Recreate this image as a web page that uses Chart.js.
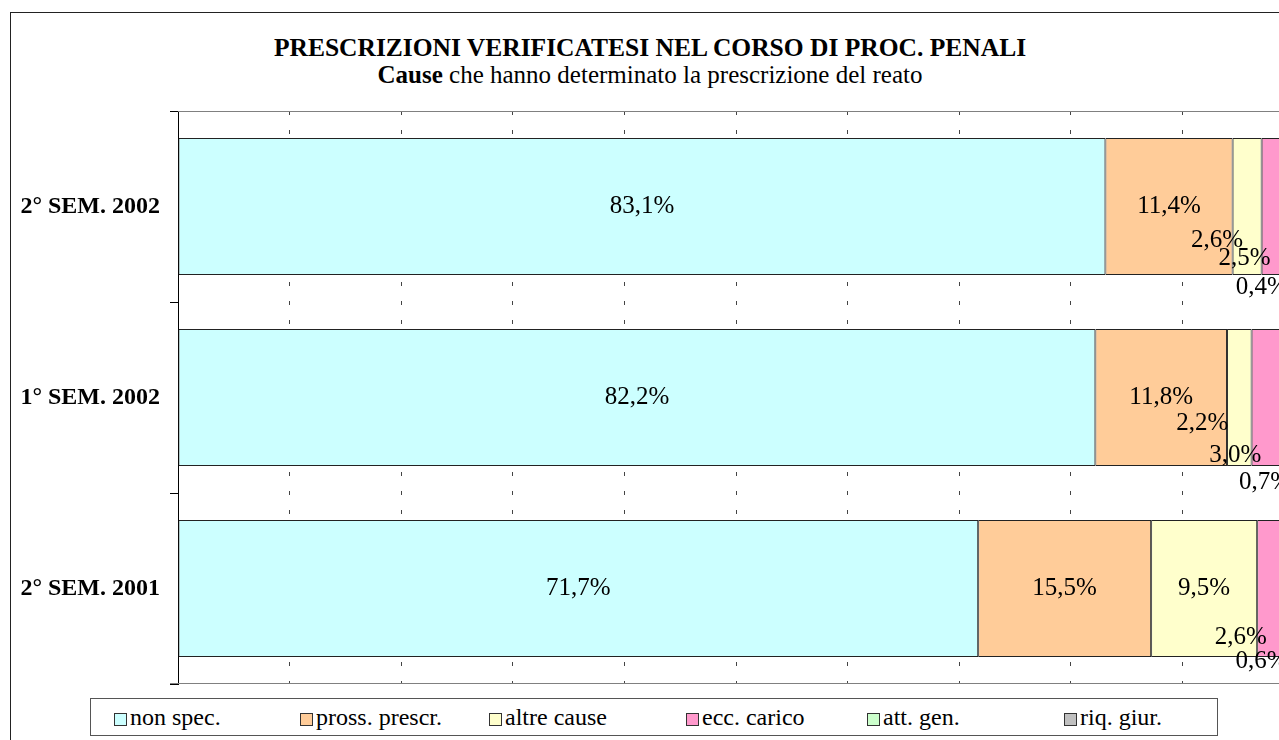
<!DOCTYPE html>
<html lang="it">
<head>
<meta charset="UTF-8">
<title>Prescrizioni verificatesi nel corso di proc. penali</title>
<script src="https://cdn.jsdelivr.net/npm/chart.js"></script>
<style>
  body { margin: 0; background: #fff; overflow: hidden; font-family: "Liberation Serif", "Times New Roman", serif; }
  #wrap { position: relative; width: 1279px; height: 740px; overflow: hidden; }
  #frame { position: absolute; left: 10px; top: 12px; width: 1400px; height: 900px; border: 1px solid #222; }
  #chart { position: absolute; left: 0; top: 0; }
  .title { position: absolute; left: 0; width: 1300px; text-align: center; color: #000; white-space: nowrap; }
  #t1 { top: 33px; font-size: 25.5px; line-height: 30px; font-weight: bold; }
  #t2 { top: 61px; font-size: 25px; line-height: 28px; }
  #legend { position: absolute; left: 90px; top: 698px; width: 1126px; height: 36px; border: 1px solid #555; background: #fff; }
  .item { position: absolute; top: 0; height: 36px; line-height: 36px; font-size: 24px; white-space: nowrap; }
  .sw { display: inline-block; width: 13px; height: 13px; border: 1px solid #333; margin-right: 3px; vertical-align: -1px; box-sizing: border-box; }
</style>
</head>
<body>
<div id="wrap">
  <div id="frame"></div>
  <div class="title" id="t1">PRESCRIZIONI VERIFICATESI NEL CORSO DI PROC. PENALI</div>
  <div class="title" id="t2"><b>Cause</b> che hanno determinato la prescrizione del reato</div>
  <canvas id="chart" width="1320" height="740"></canvas>
  <div id="legend"></div>
</div>

<script>
  const categories = ["2° SEM. 2002", "1° SEM. 2002", "2° SEM. 2001"];
  const seriesNames = ["non spec.", "pross. prescr.", "altre cause", "ecc. carico", "att. gen.", "riq. giur."];
  const nonSpec     = [83.1, 82.2, 71.7];
  const prossPrescr = [11.4, 11.8, 15.5];
  const altreCause  = [2.6, 2.2, 9.5];
  const eccCarico   = [2.5, 3.0, 2.6];
  const attGen      = [0.4, 0.7, 0.6];
  const riqGiur     = [0, 0, 0];
  const xTicks      = [0, 10, 20, 30, 40, 50, 60, 70, 80, 90, 100];

  const seriesValues = [nonSpec, prossPrescr, altreCause, eccCarico, attGen, riqGiur];
  const colors = ["#CCFFFF", "#FFCC99", "#FFFFCC", "#FF99CC", "#CCFFCC", "#C0C0C0"];
  const legendLeft = [23, 209, 398, 595, 776, 973];

  // Excel pushed the labels of the thin segments aside; nudges in px from segment centre
  const labelNudge = {
    "2-0": [-30, 34], "3-0": [-31, 52], "4-0": [-30, 81],
    "2-1": [-37, 26], "3-1": [-33, 58], "4-1": [-24, 85],
    "3-2": [-31, 49], "4-2": [-28, 73]
  };

  const serif = "'Liberation Serif', 'Times New Roman', serif";

  const frameLines = {
    id: "frameLines",
    beforeDatasetsDraw(chart) {
      const { ctx, chartArea } = chart;
      ctx.save();
      ctx.strokeStyle = "#808080";
      ctx.lineWidth = 1;
      ctx.beginPath();
      ctx.moveTo(chartArea.left, chartArea.top + 0.5);
      ctx.lineTo(chartArea.right, chartArea.top + 0.5);
      ctx.moveTo(chartArea.left - 8, chartArea.bottom - 0.5);
      ctx.lineTo(chartArea.right, chartArea.bottom - 0.5);
      ctx.stroke();
      ctx.restore();
    }
  };

  const valueLabels = {
    id: "valueLabels",
    afterDatasetsDraw(chart) {
      const { ctx } = chart;
      ctx.save();
      ctx.font = "25px " + serif;
      ctx.fillStyle = "#000";
      ctx.textAlign = "center";
      ctx.textBaseline = "middle";
      chart.data.datasets.forEach((ds, di) => {
        const meta = chart.getDatasetMeta(di);
        meta.data.forEach((bar, i) => {
          const v = ds.data[i];
          if (!v) return;
          const nudge = labelNudge[di + "-" + i] || [0, 0];
          const cx = (bar.x + bar.base) / 2;
          ctx.fillText(v.toFixed(1).replace(".", ",") + "%", cx + nudge[0], bar.y + nudge[1]);
        });
      });
      ctx.restore();
    }
  };

  const ctx = document.getElementById("chart").getContext("2d");
  new Chart(ctx, {
    type: "bar",
    data: {
      labels: categories,
      datasets: seriesNames.map((name, k) => ({
        label: name,
        data: seriesValues[k],
        backgroundColor: colors[k],
        borderColor: "#222",
        borderWidth: 1,
        borderSkipped: false,
        barPercentage: 0.717,
        categoryPercentage: 1.0
      }))
    },
    options: {
      indexAxis: "y",
      responsive: false,
      animation: false,
      events: [],
      layout: { padding: { left: 0, right: 26, top: 111, bottom: 56 } },
      plugins: {
        legend: { display: false },
        title: { display: false },
        tooltip: { enabled: false }
      },
      scales: {
        x: {
          stacked: true,
          min: 0,
          max: 100,
          afterBuildTicks(scale) { scale.ticks = xTicks.map(v => ({ value: v })); },
          afterFit(scale) { scale.height = 0; },
          ticks: { display: false },
          border: { display: false, dash: [4, 15] },
          grid: { color: "#444", lineWidth: 1, drawTicks: false }
        },
        y: {
          stacked: true,
          afterFit(scale) { scale.width = 178; },
          border: { display: true, color: "#000", width: 1 },
          grid: { offset: true, drawOnChartArea: false, drawTicks: true, tickLength: 8, color: "#000" },
          ticks: {
            color: "#000",
            padding: 10,
            font: { family: serif, size: 24, weight: "bold" }
          }
        }
      }
    },
    plugins: [frameLines, valueLabels]
  });

  // legend in columns like the original
  const legend = document.getElementById("legend");
  seriesNames.forEach((name, k) => {
    const item = document.createElement("div");
    item.className = "item";
    item.style.left = legendLeft[k] + "px";
    item.innerHTML = '<span class="sw" style="background:' + colors[k] + '"></span>' + name;
    legend.appendChild(item);
  });
</script>
</body>
</html>
